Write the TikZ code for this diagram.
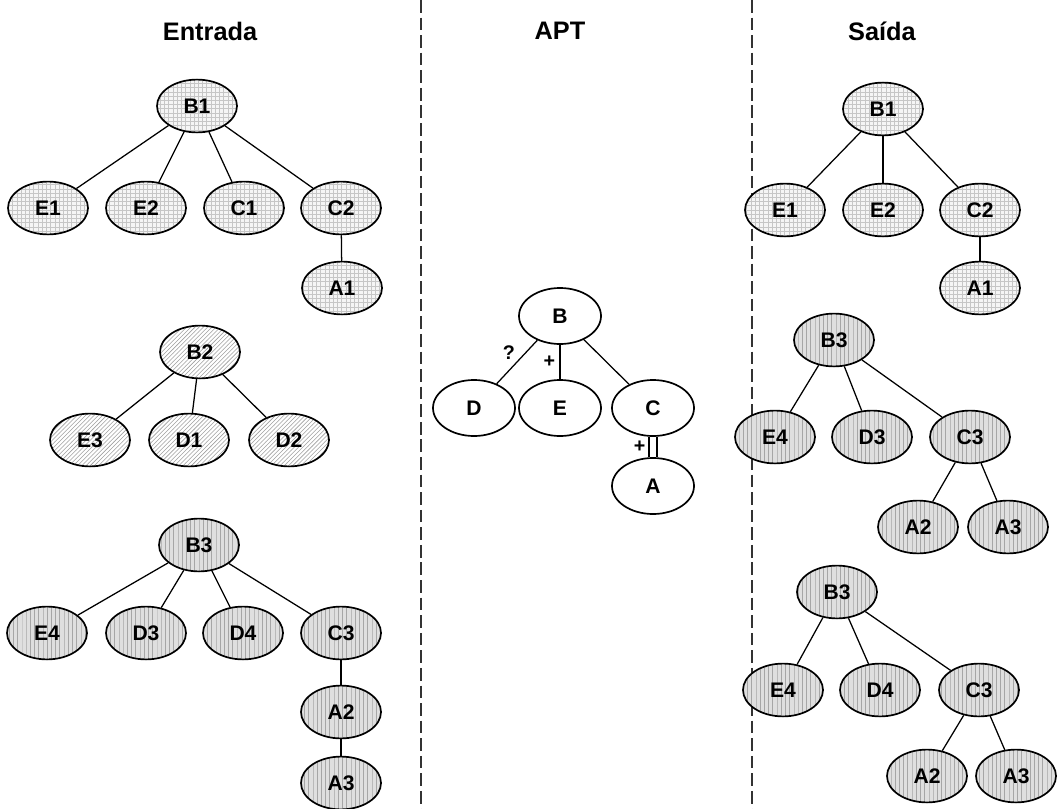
\documentclass[tikz,border=0pt]{standalone}
\usepackage{fontspec}
\setmainfont{Liberation Sans}
\usetikzlibrary{shapes.geometric}
\usetikzlibrary{patterns}
\tikzset{
knot/.style={ellipse, draw, line width=1.2pt, minimum width=2cm, minimum height=1.32cm, inner sep=0pt, font=\fontsize{15}{18}\selectfont\bfseries}, % every tree node
gridknot/.style={knot, preaction={fill=gray!8}, pattern=grid, pattern color=gray!45}, % B1 trees
hatchknot/.style={knot, pattern=north east lines, pattern color=gray!75}, % B2 tree
dotknot/.style={knot, preaction={fill=gray!25}, pattern=vertical lines, pattern color=gray!70}, % B3 trees
aptknot/.style={knot, fill=white, minimum width=2.05cm, minimum height=1.4cm}, % the APT
title/.style={font=\fontsize{18}{21}\selectfont\bfseries}, % column headings
mark label/.style={font=\fontsize{14}{16}\selectfont\bfseries, inner sep=1pt}, % ? and +
divider/.style={line width=1.6pt, black!80, dash pattern=on 9pt off 3.5pt}, % column separators
}

\begin{document}
\begin{tikzpicture}[x=0.025cm, y=-0.025cm, line width=0.9pt]
\useasboundingbox (0,0) rectangle (1061,809);
%Entrada,APT,Saida
\node[title] (ENTRADA) at (210,31) {Entrada};
\node[title] (APT) at (560,31) {APT};
\node[title] (SAIDA) at (882,31) {Saída};
\draw[divider] (421,0) -- (421,809);
\draw[divider] (752,0) -- (752,809);

% input: first tree
\node[gridknot] (inB1) at (197,106) {B1};
\node[gridknot] (inE1) at (48,208) {E1};
\node[gridknot] (inE2) at (146,208) {E2};
\node[gridknot] (inC1) at (244,208) {C1};
\node[gridknot] (inC2) at (341,208) {C2};
\node[gridknot] (inA1) at (342,288) {A1};
\draw (inB1) edge (inE1);
\draw (inB1) edge (inE2);
\draw (inB1) edge (inC1);
\draw (inB1) edge (inC2);
\draw (inC2) edge (inA1);

% input: second tree
\node[hatchknot] (inB2) at (200,352) {B2};
\node[hatchknot] (inE3) at (90,440) {E3};
\node[hatchknot] (inD1) at (189,440) {D1};
\node[hatchknot] (inD2) at (289,440) {D2};
\draw (inB2) edge (inE3);
\draw (inB2) edge (inD1);
\draw (inB2) edge (inD2);

% input: third tree
\node[dotknot] (inB3) at (199,545) {B3};
\node[dotknot] (inE4) at (47,633) {E4};
\node[dotknot] (inD3) at (146,633) {D3};
\node[dotknot] (inD4) at (243,633) {D4};
\node[dotknot] (inC3) at (341,633) {C3};
\node[dotknot] (inA2) at (341,712) {A2};
\node[dotknot] (inA3) at (341,783) {A3};
\draw (inB3) edge (inE4);
\draw (inB3) edge (inD3);
\draw (inB3) edge (inD4);
\draw (inB3) edge (inC3);
\draw (inC3) edge (inA2);
\draw (inA2) edge (inA3);

% APT
\node[aptknot] (B) at (560,316) {B};
\node[aptknot] (D) at (474,408) {D};
\node[aptknot] (E) at (560,408) {E};
\node[aptknot] (C) at (653,408) {C};
\node[aptknot] (A) at (653,486) {A};
\draw (B) edge node[mark label, midway, above left] {?} (D);
\draw (B) edge node[mark label, midway, left=2pt] {+} (E);
\draw (B) edge (C);
\draw[double, double distance=0.17cm, line width=0.8pt] (C) -- node[mark label, midway, left=4pt] {+} (A);

% output: first tree
\node[gridknot] (out1B1) at (883,109) {B1};
\node[gridknot] (out1E1) at (785,210) {E1};
\node[gridknot] (out1E2) at (883,210) {E2};
\node[gridknot] (out1C2) at (980,210) {C2};
\node[gridknot] (out1A1) at (980,288) {A1};
\draw (out1B1) edge (out1E1);
\draw (out1B1) edge (out1E2);
\draw (out1B1) edge (out1C2);
\draw (out1C2) edge (out1A1);

% output: second tree
\node[dotknot] (out2B3) at (834,340) {B3};
\node[dotknot] (out2E4) at (775,437) {E4};
\node[dotknot] (out2D3) at (872,437) {D3};
\node[dotknot] (out2C3) at (970,437) {C3};
\node[dotknot] (out2A2) at (918,527) {A2};
\node[dotknot] (out2A3) at (1008,527) {A3};
\draw (out2B3) edge (out2E4);
\draw (out2B3) edge (out2D3);
\draw (out2B3) edge (out2C3);
\draw (out2C3) edge (out2A2);
\draw (out2C3) edge (out2A3);

% output: third tree
\node[dotknot] (out3B3) at (837,592) {B3};
\node[dotknot] (out3E4) at (783,690) {E4};
\node[dotknot] (out3D4) at (880,690) {D4};
\node[dotknot] (out3C3) at (979,690) {C3};
\node[dotknot] (out3A2) at (927,776) {A2};
\node[dotknot] (out3A3) at (1016,776) {A3};
\draw (out3B3) edge (out3E4);
\draw (out3B3) edge (out3D4);
\draw (out3B3) edge (out3C3);
\draw (out3C3) edge (out3A2);
\draw (out3C3) edge (out3A3);
\end{tikzpicture}
\end{document}
